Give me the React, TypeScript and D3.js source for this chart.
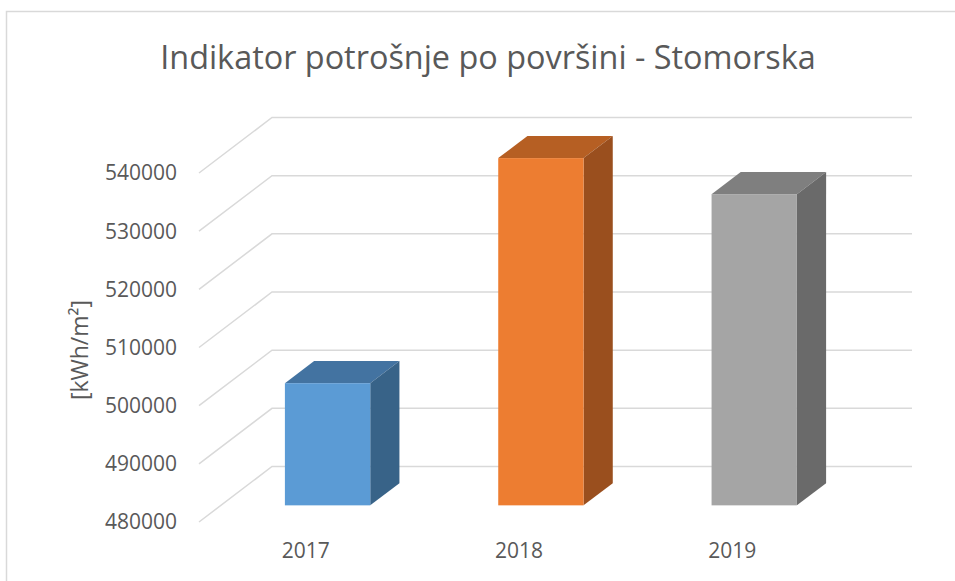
import React, { useEffect, useRef } from "react";
import * as d3 from "d3";

const years = ["2017", "2018", "2019"];
const values = [501000, 539700, 533500];
const yTicks = [480000, 490000, 500000, 510000, 520000, 530000, 540000];
const faceColors = ["#5b9bd5", "#ed7d31", "#a5a5a5"];
const topColors = ["#4373a1", "#b65f23", "#7f7f7f"];
const sideColors = ["#386388", "#9a4f1e", "#6a6a6a"];

const title = "Indikator potrošnje po površini - Stomorska";
const yTitle = "[kWh/m²]";

export default function App() {
  const svgRef = useRef<SVGSVGElement>(null);

  useEffect(() => {
    const svg = d3.select(svgRef.current);
    svg.selectAll("*").remove();

    const width = 955;
    const height = 581;
    // front plane of the plot
    const left = 199;
    const right = 839;
    const depthX = 73;
    const depthY = -55.5;
    const barFront = 0.3;
    const barBack = 0.7;

    const x = d3.scaleBand().domain(years).range([left, right]).paddingInner(0).paddingOuter(0);
    const y = d3.scaleLinear().domain([480000, 540000]).range([522, 173]);

    svg.attr("width", width).attr("height", height);

    svg
      .append("rect")
      .attr("x", 6.5)
      .attr("y", 11.5)
      .attr("width", 1000)
      .attr("height", 700)
      .attr("fill", "white")
      .attr("stroke", "#d9d9d9")
      .attr("stroke-width", 1.5);

    svg
      .append("text")
      .attr("x", 488)
      .attr("y", 69)
      .attr("text-anchor", "middle")
      .attr("font-family", "'Open Sans', sans-serif")
      .attr("font-size", 32.4)
      .attr("fill", "#595959")
      .text(title);

    // gridlines: front end -> back wall -> right
    const grid = svg.append("g");
    yTicks.forEach((t) => {
      const yf = y(t);
      grid
        .append("path")
        .attr(
          "d",
          `M${left},${yf}L${left + depthX},${yf + depthY}L${right + depthX},${yf + depthY}`
        )
        .attr("fill", "none")
        .attr("stroke", "#d9d9d9")
        .attr("stroke-width", 1.5);
    });

    const labelFont = "'Open Sans', sans-serif";
    svg
      .append("g")
      .selectAll("text")
      .data(yTicks)
      .enter()
      .append("text")
      .attr("x", 177)
      .attr("y", (d) => y(d))
      .attr("dy", "0.35em")
      .attr("text-anchor", "end")
      .attr("font-family", labelFont)
      .attr("font-size", 21)
      .attr("fill", "#595959")
      .text((d) => d);

    svg
      .append("text")
      .attr("transform", "translate(80,350) rotate(-90)")
      .attr("dy", "0.35em")
      .attr("text-anchor", "middle")
      .attr("font-family", labelFont)
      .attr("font-size", 23)
      .attr("fill", "#595959")
      .text(yTitle);

    svg
      .append("g")
      .selectAll("text")
      .data(years)
      .enter()
      .append("text")
      .attr("x", (d) => x(d)! + x.bandwidth() / 2)
      .attr("y", 551)
      .attr("dy", "0.35em")
      .attr("text-anchor", "middle")
      .attr("font-family", labelFont)
      .attr("font-size", 21)
      .attr("fill", "#595959")
      .text((d) => d);

    // 3D bars
    const bw = x.bandwidth() * 0.4;
    const bars = svg.append("g");
    years.forEach((yr, i) => {
      const cx = x(yr)! + x.bandwidth() / 2;
      const fx = cx - bw / 2 + barFront * depthX;
      const fy0 = y(480000) + barFront * depthY;
      const fy1 = y(values[i]) + barFront * depthY;
      const dx = (barBack - barFront) * depthX;
      const dy = (barBack - barFront) * depthY;

      bars
        .append("path")
        .attr("d", `M${fx},${fy1}L${fx + dx},${fy1 + dy}L${fx + bw + dx},${fy1 + dy}L${fx + bw},${fy1}Z`)
        .attr("fill", topColors[i]);
      bars
        .append("path")
        .attr(
          "d",
          `M${fx + bw},${fy1}L${fx + bw + dx},${fy1 + dy}L${fx + bw + dx},${fy0 + dy}L${fx + bw},${fy0}Z`
        )
        .attr("fill", sideColors[i]);
      bars
        .append("rect")
        .attr("x", fx)
        .attr("y", fy1)
        .attr("width", bw)
        .attr("height", fy0 - fy1)
        .attr("fill", faceColors[i]);
    });
  }, []);

  return (
    <svg
      ref={svgRef}
      style={{ position: "absolute", left: 0, top: 0, display: "block" }}
    ></svg>
  );
}
